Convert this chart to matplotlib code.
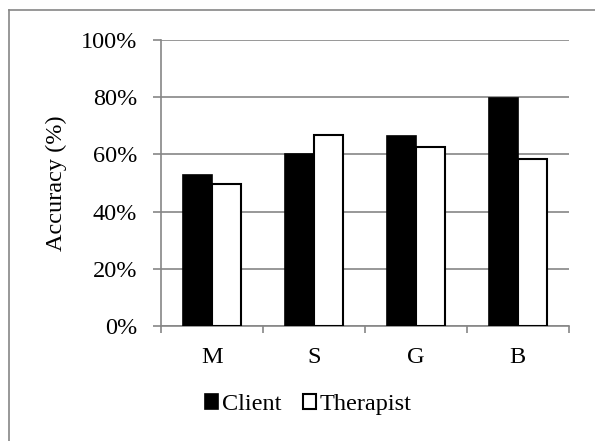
import numpy as np
import matplotlib.pyplot as plt
from matplotlib.lines import Line2D
from matplotlib.ticker import PercentFormatter

# Accuracy per category for each group
categories = ['M', 'S', 'G', 'B']
client = [52.8, 60.3, 66.4, 79.7]
therapist = [49.7, 66.9, 62.5, 58.3]
y_ticks = [0, 20, 40, 60, 80, 100]

plt.rcParams['font.family'] = ['Liberation Serif', 'DejaVu Serif']
grey = '#868686'
fs = 17.5

fig = plt.figure(figsize=(5.95, 4.41), dpi=100)
ax = fig.add_axes([0.270, 0.261, 0.686, 0.648])

x = np.arange(len(categories))
w = 1 / 3.5  # gap width 150%
ax.bar(x - w / 2, client, w, color='black', edgecolor='black', linewidth=1.2, label='Client', zorder=3)
ax.bar(x + w / 2, therapist, w, color='white', edgecolor='black', linewidth=1.5, label='Therapist', zorder=3)

ax.set_xlim(-0.5, len(categories) - 0.5)
ax.set_ylim(0, 100)
ax.set_yticks(y_ticks)
ax.yaxis.set_major_formatter(PercentFormatter(decimals=0))
ax.grid(axis='y', color=grey, linewidth=1.2, zorder=0)

ax.set_xticks(x)
ax.set_xticklabels(categories)
ax.set_xticks(np.arange(len(categories) + 1) - 0.5, minor=True)
ax.tick_params(axis='x', which='major', length=0, pad=15, labelsize=fs)
ax.tick_params(axis='x', which='minor', length=5, color=grey, width=1.2)
ax.tick_params(axis='y', length=5.8, color=grey, width=1.2, pad=11, labelsize=fs)

for side in ['top', 'right']:
    ax.spines[side].set_visible(False)
for side in ['left', 'bottom']:
    ax.spines[side].set_color(grey)
    ax.spines[side].set_linewidth(1.2)

ax.set_ylabel('Accuracy (%)', fontsize=fs, labelpad=10)

fig.legend(loc='center', bbox_to_anchor=(0.518, 0.082), ncol=2, frameon=False,
           fontsize=fs, handlelength=0.55, handleheight=0.55, handletextpad=0.15,
           columnspacing=0.9)

# chart area border
fig.add_artist(Line2D([8.5 / 595, 8.5 / 595], [0, 1 - 10 / 441], color=grey, linewidth=1.2))
fig.add_artist(Line2D([8.5 / 595, 1], [1 - 10 / 441, 1 - 10 / 441], color=grey, linewidth=1.2))

fig.savefig('out.png', dpi=100)
